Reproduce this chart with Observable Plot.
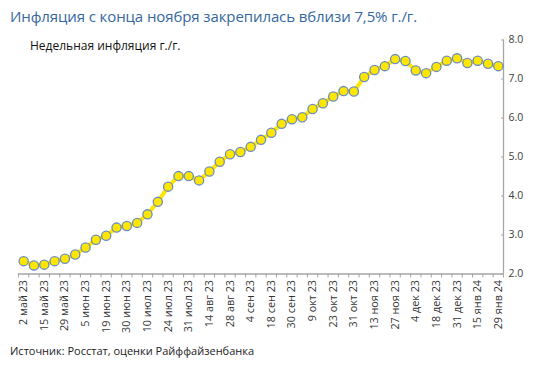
<!DOCTYPE html>
<html>
<head>
<meta charset="utf-8">
<script src="https://cdn.jsdelivr.net/npm/d3@7"></script>
<script src="https://cdn.jsdelivr.net/npm/@observablehq/plot@0.6"></script>
<style>
  html, body { margin: 0; padding: 0; background: #fff; }
  body { width: 535px; height: 365px; position: relative; overflow: hidden; font-family: "Open Sans", sans-serif; }
  #title { position: absolute; left: 10px; top: 6px; font-size: 15px; color: #3467A0; white-space: nowrap; letter-spacing: -0.1px; }
  #subtitle { position: absolute; left: 30px; top: 37px; font-size: 12px; color: #111; white-space: nowrap; }
  #source { position: absolute; left: 10px; top: 343px; font-size: 11px; color: #222; white-space: nowrap; }
  #chart { position: absolute; left: 0; top: 0; }
</style>
</head>
<body>
<div id="chart"></div>
<div id="title">Инфляция с конца ноября закрепилась вблизи 7,5% г./г.</div>
<div id="subtitle">Недельная инфляция г./г.</div>
<div id="source">Источник: Росстат, оценки Райффайзенбанка</div>
<script>
// Weekly y/y inflation, %, 47 observations (every other one labelled)
const inflation = [
  2.33, 2.22, 2.24, 2.33, 2.39, 2.50, 2.68, 2.88, 2.98, 3.19,
  3.23, 3.31, 3.53, 3.85, 4.24, 4.51, 4.51, 4.40, 4.63, 4.88,
  5.07, 5.13, 5.26, 5.44, 5.62, 5.85, 5.97, 6.02, 6.23, 6.38,
  6.55, 6.69, 6.68, 7.05, 7.23, 7.33, 7.51, 7.46, 7.22, 7.15,
  7.31, 7.47, 7.53, 7.41, 7.47, 7.39, 7.33
];
// Tick labels, placed on observations 0, 2, 4, ...
const tickLabels = [
  "2 май 23", "15 май 23", "29 май 23", "5 июн 23", "19 июн 23", "30 июн 23",
  "10 июл 23", "24 июл 23", "31 июл 23", "14 авг 23", "28 авг 23", "4 сен 23",
  "18 сен 23", "30 сен 23", "9 окт 23", "23 окт 23", "31 окт 23", "13 ноя 23",
  "27 ноя 23", "4 дек 23", "18 дек 23", "31 дек 23", "15 янв 24", "29 янв 24"
];
const yTicks = [2, 3, 4, 5, 6, 7, 8];

const data = inflation.map((v, i) => ({i, v}));
const n = inflation.length;
const xDomain = [-0.5, n - 0.5];
const labelPos = tickLabels.map((_, k) => 2 * k);
const boundaries = d3.range(n + 1).map(k => k - 0.5);

const plot = Plot.plot({
  width: 535,
  height: 340,
  marginTop: 39.5,
  marginBottom: 66.5,
  marginLeft: 18,
  marginRight: 32,
  style: {fontFamily: "Open Sans, sans-serif", fontSize: "10.5px", color: "#404040", background: "transparent"},
  x: {type: "linear", domain: xDomain},
  y: {domain: [2, 8]},
  marks: [
    Plot.ruleY([2], {stroke: "#A6A6A6", strokeWidth: 1.3}),
    Plot.ruleX([xDomain[1]], {stroke: "#A6A6A6", strokeWidth: 1.3}),
    Plot.axisX({ticks: boundaries, tickFormat: () => "", tickSize: 4, stroke: "#A6A6A6", label: null}),
    Plot.axisX({ticks: labelPos, tickFormat: d => tickLabels[d / 2], tickSize: 0, tickPadding: 6, tickRotate: -90, fill: "#333", fontSize: 10.8, label: null}),
    Plot.axisY({anchor: "right", ticks: yTicks, tickFormat: d => d.toFixed(1), tickSize: -3, tickPadding: 8, stroke: "#A6A6A6", fill: "#404040", fontSize: 10.5, label: null}),
    Plot.line(data, {x: "i", y: "v", stroke: "#FFE600", strokeWidth: 4}),
    Plot.dot(data, {x: "i", y: "v", r: 4.6, fill: "#FFE600", stroke: "#6C8EBF", strokeWidth: 1.3})
  ]
});
document.getElementById("chart").appendChild(plot);
</script>
</body>
</html>
